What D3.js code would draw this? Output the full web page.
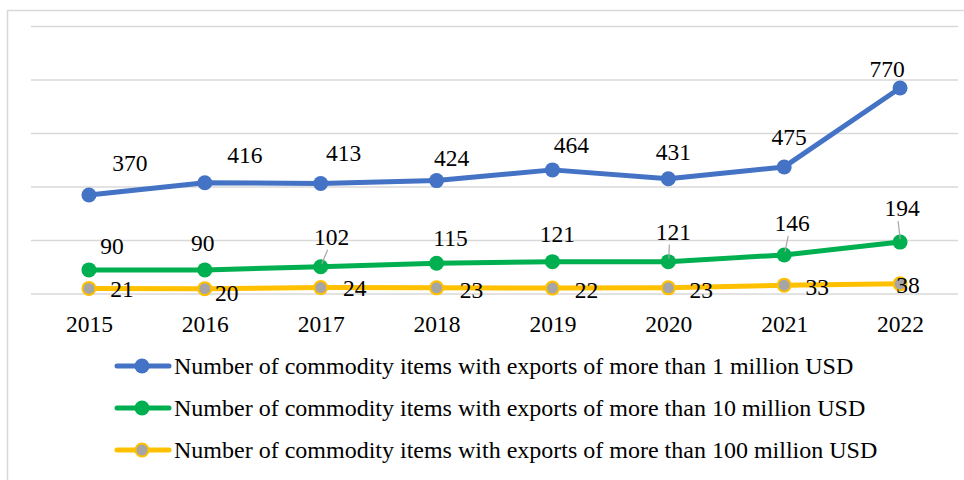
<!DOCTYPE html>
<html>
<head>
<meta charset="utf-8">
<script src="https://cdn.jsdelivr.net/npm/d3@7"></script>
<style>
  html, body { margin: 0; padding: 0; background: #fff; }
  svg { display: block; }
  svg text { font-family: "Liberation Serif", "Times New Roman", serif; }
</style>
</head>
<body>
<svg id="chart" width="964" height="480"></svg>
<script>
const years = ["2015", "2016", "2017", "2018", "2019", "2020", "2021", "2022"];
const over1M = [370, 416, 413, 424, 464, 431, 475, 770];
const over10M = [90, 90, 102, 115, 121, 121, 146, 194];
const over100M = [21, 20, 24, 23, 22, 23, 33, 38];
const seriesNames = [
  "Number of commodity items with exports of more than 1 million USD",
  "Number of commodity items with exports of more than 10 million USD",
  "Number of commodity items with exports of more than 100 million USD"
];
const yTicks = [0, 200, 400, 600, 800, 1000];

// label placement (layout only)
const labelOffsets = [
  [[41,-32],[40,-28],[23,-31],[15,-23],[19,-25],[5,-27],[5,-30],[-13,-19]],
  [[23,-24],[-2,-27],[11,-30],[14,-25],[5,-28],[5,-30],[8,-32],[2,-34]],
  [[33,1],[22,4],[34,0],[35,2],[34,2],[33,2],[33,2],[8,1]]
];
const leaders = [
  [false,false,false,false,false,false,false,false],
  [false,false,true,false,false,true,true,true],
  [false,false,false,false,false,false,false,false]
];

const series = [
  {name: seriesNames[0], values: over1M, line: "#4472C4", fill: "#4472C4", stroke: "#4472C4"},
  {name: seriesNames[1], values: over10M, line: "#00B050", fill: "#00B050", stroke: "#00B050"},
  {name: seriesNames[2], values: over100M, line: "#FFC000", fill: "#A5A5A5", stroke: "#FFC000"}
];

const FONT = "'Liberation Serif', 'Times New Roman', serif";
const svg = d3.select("#chart");

// outer border
svg.append("rect").attr("x", 7.5).attr("y", 10.5).attr("width", 980).attr("height", 500)
  .attr("fill", "none").attr("stroke", "#d9d9d9").attr("stroke-width", 1.5);

const x = d3.scalePoint().domain(years).range([31, 958]).padding(0.5);
const y = d3.scaleLinear().domain([0, 1000]).range([294, 26.5]);

// gridlines
svg.append("g").selectAll("line").data(yTicks).join("line")
  .attr("x1", 31).attr("x2", 958)
  .attr("y1", d => y(d)).attr("y2", d => y(d))
  .attr("stroke", "#d9d9d9").attr("stroke-width", 1.5);

// x axis labels
const xAxis = d3.axisBottom(x).tickSize(0).tickPadding(0);
const gx = svg.append("g").attr("transform", "translate(0,294)").call(xAxis);
gx.attr("font-family", null).attr("font-size", null);
gx.select(".domain").remove();
gx.selectAll("text")
  .style("font-family", FONT)
  .style("font-size", "23.5px").attr("fill", "#000").attr("dy", null).attr("y", 38);

const lineGen = d3.line().x((d, i) => x(years[i])).y(d => y(d));

series.forEach((s, si) => {
  const g = svg.append("g");
  g.append("path").datum(s.values)
    .attr("d", lineGen).attr("fill", "none")
    .attr("stroke", s.line).attr("stroke-width", 5).attr("stroke-linejoin", "round");
  g.selectAll("circle").data(s.values).join("circle")
    .attr("cx", (d, i) => x(years[i])).attr("cy", d => y(d))
    .attr("r", si === 2 ? 6.5 : 7.5)
    .attr("fill", s.fill).attr("stroke", s.stroke).attr("stroke-width", si === 2 ? 2 : 0);
});

// data labels
series.forEach((s, si) => {
  const g = svg.append("g");
  s.values.forEach((v, i) => {
    const px = x(years[i]), py = y(v);
    const [dx, dy] = labelOffsets[si][i];
    const cx = px + dx, cy = py + dy;
    if (leaders[si][i]) {
      g.append("line")
        .attr("x1", cx - (dx > 0 ? 4 : 0)).attr("y1", cy + 13)
        .attr("x2", px + dx * 0.1).attr("y2", py - 3)
        .attr("stroke", "#a6a6a6").attr("stroke-width", 1.2);
    }
    g.append("text")
      .attr("x", cx).attr("y", cy + 8)
      .attr("text-anchor", "middle")
      .style("font-family", FONT)
      .style("font-size", "23.5px").attr("fill", "#000")
      .text(v);
  });
});

// legend
const legendY = [366, 408, 450];
const lg = svg.append("g");
series.forEach((s, si) => {
  const ly = legendY[si];
  lg.append("line").attr("x1", 117).attr("x2", 169).attr("y1", ly).attr("y2", ly)
    .attr("stroke", s.line).attr("stroke-width", 5).attr("stroke-linecap", "round");
  lg.append("circle").attr("cx", 142).attr("cy", ly)
    .attr("r", si === 2 ? 6.5 : 7.5)
    .attr("fill", s.fill).attr("stroke", s.stroke).attr("stroke-width", si === 2 ? 2 : 0);
  lg.append("text").attr("x", 174).attr("y", ly + 7.5)
    .style("font-family", FONT)
    .style("font-size", "24px").attr("fill", "#000").text(s.name);
});
</script>
</body>
</html>
